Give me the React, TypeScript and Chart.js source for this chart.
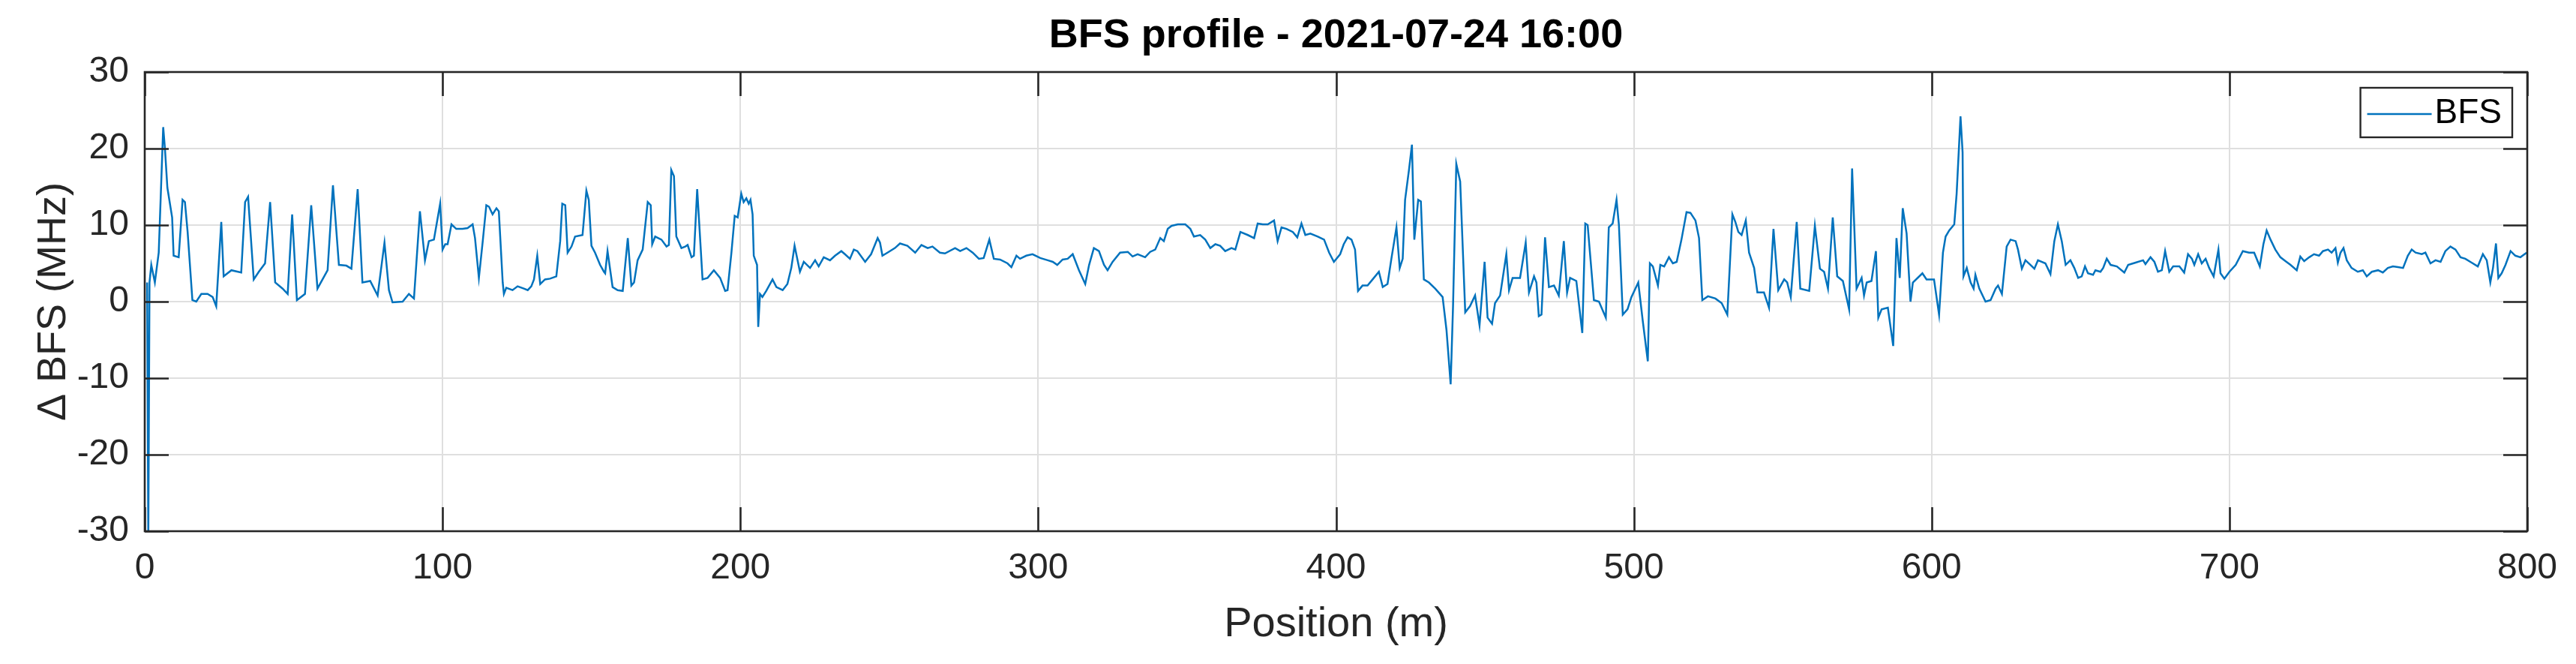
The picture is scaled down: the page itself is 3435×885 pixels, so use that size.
import React, { useEffect, useRef } from "react";
import { Chart, registerables } from "chart.js";

Chart.register(...registerables);

// ---------- data (position in m, ΔBFS in MHz) ----------
const pos000 = [
  0.8, 1.2, 1.6, 2.2, 3.4, 4.7, 6.2, 6.8, 7.6, 9.2,
  9.7, 11.4, 12.7, 13.5, 14.4, 16.0, 17.3, 19.0, 21.1, 22.8,
  24.0, 25.7, 26.5, 29.1, 32.4, 33.7, 34.7, 36.6, 38.3, 40.4,
  42.1, 43.8, 46.3, 48.0, 49.5, 51.1, 53.8, 55.9, 58.0, 61.4,
  63.2, 65.2, 67.7, 69.4, 71.5, 73.1, 75.7, 78.2, 80.5, 82.0,
  83.2, 86.6, 88.7, 90.4, 92.4, 94.1, 95.4, 97.1,
];
const bfs000 = [
  2.5, -31, 2.5, 4.8, 2.5, 6.4, 22.8, 19.9, 14.9, 11.0,
  6.0, 5.8, 13.3, 13.0, 9.1, 0.2, 0.0, 1.0, 1.0, 0.6,
  -0.6, 10.4, 3.3, 4.1, 3.8, 13.0, 13.7, 2.9, 3.9, 5.0,
  13.0, 2.5, 1.7, 1.0, 11.4, 0.2, 1.0, 12.6, 1.7, 4.1,
  15.2, 4.8, 4.7, 4.3, 14.7, 2.5, 2.7, 0.8, 7.7, 1.5,
  -0.1, 0.0, 1.0, 0.4, 11.8, 5.4, 7.9, 8.1,
];

const pos100 = [
  99.2, 100.0, 100.9, 101.7, 103.0, 104.6, 106.7, 108.4, 110.1, 110.9,
  112.2, 113.5, 114.7, 115.6, 116.8, 118.1, 118.9, 120.2, 120.6, 121.4,
  123.5, 125.2, 127.3, 128.6, 129.8, 130.7, 131.8, 132.8, 134.4, 136.1,
  138.2, 139.5, 140.2, 141.2, 142.0, 143.3, 144.5, 147.0, 148.3, 149.1,
  150.0, 151.2, 152.9, 154.2, 154.6, 155.4, 157.1, 158.8, 160.5, 162.2,
  163.4, 164.3, 165.5, 167.2, 168.9, 169.9, 170.4, 171.4, 173.5, 175.2,
  176.0, 176.8, 177.7, 178.5, 180.2, 181.5, 182.3, 183.6, 184.4, 185.5,
  187.3, 189.0, 191.1, 193.2, 194.9, 195.7, 197.0, 198.1, 199.1,
];
const bfs100 = [
  12.8, 6.8, 7.5, 7.5, 10.1, 9.5, 9.5, 9.6, 10.1, 8.3,
  3.1, 7.9, 12.6, 12.4, 11.4, 12.2, 11.8, 2.5, 1.0, 1.8,
  1.5, 2.0, 1.7, 1.5, 2.0, 2.9, 6.0, 2.3, 2.9, 3.0,
  3.3, 7.9, 12.8, 12.6, 6.4, 7.2, 8.5, 8.7, 14.5, 13.3,
  7.3, 6.4, 4.8, 3.9, 3.7, 6.6, 1.9, 1.5, 1.4, 8.3,
  2.1, 2.5, 5.4, 6.8, 13.0, 12.6, 7.5, 8.5, 8.1, 7.2,
  7.4, 17.2, 16.4, 8.5, 7.0, 7.2, 7.4, 5.8, 6.0, 14.7,
  2.9, 3.1, 4.1, 3.1, 1.4, 1.5, 6.4, 11.2, 11.0,
];

const pos200 = [
  200.3, 201.1, 202.0, 202.8, 203.4, 204.1, 204.5, 205.6, 206.0, 206.6,
  207.4, 208.7, 210.8, 212.1, 214.2, 215.8, 217.1, 218.2, 220.0, 221.3,
  223.4, 225.1, 226.3, 228.0, 230.1, 231.8, 233.9, 235.1, 236.8, 238.1,
  239.3, 241.9, 243.9, 246.1, 246.9, 247.7, 249.4, 251.9, 253.6, 256.1,
  258.7, 260.8, 262.9, 264.5, 267.0, 268.7, 272.1, 273.8, 275.9, 278.0,
  280.1, 281.7, 283.6, 285.1, 287.2, 289.7, 291.0, 292.7, 293.9, 296.0,
  298.1,
];
const bfs200 = [
  14.1, 13.0, 13.5, 12.8, 13.3, 11.4, 6.0, 4.8, -3.3, 1.0,
  0.6, 1.4, 2.9, 1.9, 1.5, 2.3, 4.4, 7.3, 3.9, 5.2,
  4.4, 5.4, 4.6, 5.8, 5.4, 6.0, 6.6, 6.2, 5.6, 6.8,
  6.6, 5.2, 6.2, 8.3, 7.7, 6.0, 6.4, 7.0, 7.6, 7.3,
  6.4, 7.4, 7.0, 7.2, 6.4, 6.3, 7.0, 6.6, 7.0, 6.4,
  5.6, 5.7, 8.1, 5.6, 5.5, 5.0, 4.5, 6.0, 5.6, 6.0,
  6.2,
];

const pos300 = [
  300.7, 303.2, 304.9, 306.4, 308.2, 309.9, 311.6, 313.7, 315.8, 317.1,
  318.7, 320.4, 322.1, 323.3, 325.0, 327.5, 330.1, 331.7, 333.4, 335.9,
  337.6, 339.3, 341.0, 342.2, 343.5, 344.8, 346.9, 349.4, 351.1, 352.3,
  354.4, 356.1, 357.8, 359.5, 361.1, 362.8, 364.9, 366.2, 367.9, 370.4,
  372.5, 373.7, 375.4, 377.1, 379.2, 380.4, 381.7, 383.4, 385.5, 387.0,
  388.4, 389.7, 391.4, 393.9, 396.0, 397.7, 399.3,
];
const bfs300 = [
  5.7, 5.4, 5.2, 4.8, 5.5, 5.6, 6.2, 4.1, 2.3, 4.8,
  7.0, 6.6, 4.8, 4.1, 5.2, 6.4, 6.5, 5.9, 6.2, 5.8,
  6.5, 6.8, 8.3, 7.9, 9.5, 9.9, 10.1, 10.1, 9.5, 8.5,
  8.7, 8.1, 7.0, 7.5, 7.3, 6.6, 7.0, 6.8, 9.1, 8.7,
  8.3, 10.2, 10.1, 10.1, 10.6, 7.9, 9.7, 9.5, 9.1, 8.4,
  10.2, 8.7, 8.9, 8.5, 8.1, 6.4, 5.2,
];

const pos400 = [
  401.4, 402.6, 403.9, 405.2, 406.4, 407.4, 408.9, 410.6, 412.3, 414.4,
  415.7, 417.3, 418.6, 420.3, 421.4, 422.4, 423.2, 424.5, 425.5, 426.3,
  427.6, 428.5, 429.5, 431.2, 433.3, 435.8, 437.1, 438.5, 439.3, 440.4,
  441.7, 443.4, 445.0, 446.7, 448.2, 449.9, 450.9, 452.4, 453.4, 455.1,
  457.2, 458.1, 459.3, 461.8, 463.7, 464.8, 466.5, 467.3, 468.1, 469.0,
  470.2, 471.5, 473.2, 474.8, 476.5, 477.6, 478.6, 480.7, 482.7, 483.7,
  484.5, 486.6, 488.3, 490.6, 491.6, 492.9, 494.2, 495.0, 496.3, 497.9,
  499.2, 501.5, 503.0, 504.7,
];
const bfs400 = [
  6.2, 7.5, 8.4, 8.1, 6.8, 1.4, 2.1, 2.1, 2.9, 3.9,
  1.9, 2.3, 5.6, 9.7, 4.4, 5.6, 13.3, 17.2, 20.5, 8.1,
  13.3, 13.1, 2.9, 2.5, 1.7, 0.6, -3.7, -10.8, -0.6, 18.0,
  15.7, -1.4, -0.6, 0.8, -3.1, 5.2, -2.1, -2.9, -0.2, 0.8,
  6.2, 1.5, 3.1, 3.1, 7.7, 1.2, 3.3, 2.5, -1.9, -1.7,
  8.4, 1.9, 2.1, 0.8, 7.9, 1.2, 3.1, 2.7, -4.1, 10.2,
  10.0, 0.2, 0.0, -2.1, 9.7, 10.2, 13.3, 10.0, -1.7, -1.0,
  0.6, 2.5, -2.5, -7.8,
];

const pos500 = [
  505.4, 506.4, 508.1, 508.9, 510.2, 511.8, 513.1, 514.4, 516.0, 517.7,
  519.0, 520.7, 521.9, 523.0, 524.9, 527.4, 529.5, 531.4, 533.1, 534.1,
  535.1, 536.2, 537.6, 538.7, 540.4, 541.5, 543.7, 545.4, 546.9, 548.5,
  550.5, 551.5, 552.7, 554.7, 555.9, 558.9, 560.8, 562.5, 563.9, 565.2,
  566.8, 568.3, 570.2, 572.3, 573.3, 574.8, 576.5, 577.3, 578.2, 579.8,
  581.3, 582.1, 583.2, 585.3, 587.1, 588.2, 589.3, 590.3, 591.6, 592.9,
  593.7, 596.9, 598.3, 600.8, 602.5, 603.8,
];
const bfs500 = [
  5.0, 4.6, 2.1, 4.8, 4.6, 5.8, 5.0, 5.2, 8.1, 11.7,
  11.6, 10.6, 8.3, 0.2, 0.7, 0.4, -0.2, -1.7, 11.4, 10.4,
  9.1, 8.7, 10.6, 6.4, 4.4, 1.2, 1.2, -0.8, 9.5, 1.5,
  2.9, 2.5, 0.6, 10.4, 1.7, 1.4, 9.9, 4.3, 3.9, 1.7,
  11.0, 3.3, 2.7, -1.0, 17.4, 1.7, 3.1, 0.8, 2.5, 2.7,
  6.6, -2.1, -1.0, -0.8, -5.8, 8.3, 3.1, 12.2, 8.9, 0.0,
  2.5, 3.7, 2.9, 2.9, -1.7, 6.4,
];

const pos600 = [
  604.7, 605.9, 607.6, 608.4, 609.7, 610.4, 610.7, 611.8, 613.1, 614.1,
  614.7, 616.0, 618.1, 619.8, 621.5, 622.3, 623.6, 625.2, 626.5, 628.2,
  629.0, 630.3, 631.5, 633.2, 634.5, 635.7, 638.2, 639.9, 641.2, 642.4,
  643.7, 645.0, 646.6, 647.9, 649.2, 650.4, 651.5, 652.5, 654.2, 655.0,
  656.7, 657.6, 658.8, 660.1, 662.2, 664.7, 666.0, 668.5, 671.0, 671.8,
  673.5, 674.8, 676.0, 677.3, 678.4, 679.8, 681.1, 683.2, 684.8, 686.1,
  687.4, 688.2, 689.5, 690.7, 692.0, 693.2, 694.7, 696.3, 697.0, 698.3,
  700.0, 702.1,
];
const bfs600 = [
  8.5, 9.3, 10.1, 14.1, 24.2, 19.5, 3.3, 4.4, 2.5, 1.7,
  3.5, 1.7, 0.0, 0.2, 1.7, 2.1, 1.0, 7.2, 8.1, 7.9,
  6.8, 4.3, 5.4, 4.8, 4.3, 5.4, 5.0, 3.6, 7.9, 10.1,
  7.9, 4.8, 5.4, 4.4, 3.1, 3.3, 4.6, 3.7, 3.5, 4.1,
  3.9, 4.4, 5.6, 4.8, 4.6, 3.8, 4.8, 5.1, 5.4, 4.9,
  5.8, 5.2, 3.9, 4.1, 6.6, 3.9, 4.6, 4.6, 3.8, 6.2,
  5.6, 4.8, 6.2, 5.0, 5.6, 4.4, 3.3, 6.8, 3.7, 3.0,
  3.9, 4.8,
];

const pos700 = [
  704.5, 706.6, 708.3, 710.2, 711.4, 712.5, 713.8, 715.4, 717.1, 718.8,
  720.5, 722.6, 723.8, 725.1, 726.8, 728.4, 730.1, 731.4, 733.1, 734.3,
  735.6, 736.4, 737.3, 738.3, 739.4, 741.0, 743.1, 744.8, 746.1, 747.8,
  749.9, 751.5, 753.2, 754.9, 756.6, 758.3, 759.9, 761.2, 762.5, 764.6,
  765.8, 767.5, 769.2, 770.9, 772.5, 774.2, 775.9, 777.6, 779.2, 781.3,
  783.4, 785.1, 786.4, 787.6, 788.5, 789.5, 790.3, 791.4, 792.7, 794.4,
  796.0, 797.7, 799.8,
];
const bfs700 = [
  6.6, 6.4, 6.4, 4.6, 7.5, 9.3, 8.1, 6.8, 5.8, 5.3,
  4.8, 4.1, 5.9, 5.3, 5.8, 6.2, 6.0, 6.6, 6.8, 6.4,
  7.0, 5.1, 6.4, 7.0, 5.4, 4.4, 3.9, 4.1, 3.3, 3.9,
  4.1, 3.8, 4.4, 4.6, 4.5, 4.4, 6.0, 6.8, 6.4, 6.2,
  6.4, 5.0, 5.4, 5.2, 6.6, 7.2, 6.8, 5.8, 5.6, 5.1,
  4.6, 6.2, 5.4, 2.5, 4.4, 7.6, 3.1, 3.7, 4.8, 6.6,
  6.0, 5.8, 6.4,
];

const xTicks = [0, 100, 200, 300, 400, 500, 600, 700, 800];
const yTicks = [-30, -20, -10, 0, 10, 20, 30];

const chartTitle = "BFS profile - 2021-07-24 16:00";
const xLabel = "Position (m)";
const yLabel = "Δ BFS (MHz)";
const seriesName = "BFS";

// ---------- styles ----------
const FONT = '"Liberation Sans", Arial, Helvetica, sans-serif';
const AXIS_COLOR = "#262626";
const GRID_COLOR = "#dfdfdf";
const LINE_COLOR = "#0072BD";
const TICK_LEN = 32;

const positions = [...pos000, ...pos100, ...pos200, ...pos300, ...pos400, ...pos500, ...pos600, ...pos700];
const values = [...bfs000, ...bfs100, ...bfs200, ...bfs300, ...bfs400, ...bfs500, ...bfs600, ...bfs700];

const matlabAxesPlugin = {
  id: "matlabAxes",
  afterDatasetsDraw(chart: any) {
    const { ctx, chartArea, scales } = chart;
    const { left, right, top, bottom } = chartArea;
    const xs = scales.x;
    const ys = scales.y;
    ctx.save();
    ctx.strokeStyle = AXIS_COLOR;
    ctx.lineWidth = 2.6;
    ctx.lineCap = "butt";
    ctx.beginPath();
    for (const v of xTicks) {
      const px = Math.round(xs.getPixelForValue(v)) + 0.5;
      ctx.moveTo(px, bottom);
      ctx.lineTo(px, bottom - TICK_LEN);
      ctx.moveTo(px, top);
      ctx.lineTo(px, top + TICK_LEN);
    }
    for (const v of yTicks) {
      const py = Math.round(ys.getPixelForValue(v)) + 0.5;
      ctx.moveTo(left, py);
      ctx.lineTo(left + TICK_LEN, py);
      ctx.moveTo(right, py);
      ctx.lineTo(right - TICK_LEN, py);
    }
    ctx.stroke();
    ctx.strokeRect(left, top, right - left, bottom - top);

    // legend (inside, north-east)
    const label = chart.data.datasets[0].label;
    ctx.font = `46px ${FONT}`;
    const tw = ctx.measureText(label).width;
    const boxH = 66;
    const lineLen = 86;
    const boxW = 9 + lineLen + 4 + tw + 14;
    const bx = right - 20 - boxW;
    const by = top + 21;
    ctx.fillStyle = "#ffffff";
    ctx.fillRect(bx, by, boxW, boxH);
    ctx.lineWidth = 2.4;
    ctx.strokeStyle = AXIS_COLOR;
    ctx.strokeRect(bx, by, boxW, boxH);
    ctx.strokeStyle = LINE_COLOR;
    ctx.lineWidth = 2.5;
    ctx.beginPath();
    ctx.moveTo(bx + 9, by + boxH / 2 + 2);
    ctx.lineTo(bx + 9 + lineLen, by + boxH / 2 + 2);
    ctx.stroke();
    ctx.fillStyle = "#000000";
    ctx.textAlign = "left";
    ctx.textBaseline = "middle";
    ctx.fillText(label, bx + 9 + lineLen + 4, by + boxH / 2 + 1);
    ctx.restore();
  },
};

export default function App() {
  const canvasRef = useRef<HTMLCanvasElement | null>(null);

  useEffect(() => {
    if (!canvasRef.current) return;
    const data = positions.map((p, i) => ({ x: p, y: values[i] }));
    const chart = new Chart(canvasRef.current, {
      type: "line",
      data: {
        datasets: [
          {
            label: seriesName,
            data,
            borderColor: LINE_COLOR,
            backgroundColor: LINE_COLOR,
            borderWidth: 2.5,
            pointRadius: 0,
            tension: 0,
            fill: false,
            clip: 0,
          },
        ],
      },
      options: {
        animation: false,
        responsive: true,
        maintainAspectRatio: false,
        layout: { padding: { left: 0, right: 65, top: 0, bottom: 0 } },
        plugins: {
          legend: { display: false },
          tooltip: { enabled: false },
          title: {
            display: true,
            fullSize: false,
            text: chartTitle,
            color: "#000000",
            font: { family: FONT, size: 54, weight: "bold" },
            padding: { top: 15.6, bottom: 15.6 },
          },
        },
        scales: {
          x: {
            type: "linear",
            min: 0,
            max: 800,
            afterBuildTicks: (s: any) => {
              s.ticks = xTicks.map((v) => ({ value: v }));
            },
            afterFit: (s: any) => {
              s.height = 177;
            },
            grid: { color: GRID_COLOR, lineWidth: 2, drawTicks: false },
            border: { display: false },
            ticks: {
              color: AXIS_COLOR,
              font: { family: FONT, size: 48 },
              padding: 21,
              maxRotation: 0,
              autoSkip: false,
            },
            title: {
              display: true,
              text: xLabel,
              color: AXIS_COLOR,
              font: { family: FONT, size: 56 },
              padding: { top: 0, bottom: 19 },
            },
          },
          y: {
            type: "linear",
            min: -30,
            max: 30,
            afterBuildTicks: (s: any) => {
              s.ticks = yTicks.map((v) => ({ value: v }));
            },
            afterFit: (s: any) => {
              s.width = 193;
            },
            grid: { color: GRID_COLOR, lineWidth: 2, drawTicks: false },
            border: { display: false },
            ticks: {
              color: AXIS_COLOR,
              font: { family: FONT, size: 48 },
              padding: 21,
              autoSkip: false,
            },
            title: {
              display: true,
              text: yLabel,
              color: AXIS_COLOR,
              font: { family: FONT, size: 54 },
              padding: { top: 40, bottom: 0 },
            },
          },
        },
      },
      plugins: [matlabAxesPlugin],
    });
    return () => chart.destroy();
  }, []);

  return (
    <div
      style={{
        position: "fixed",
        left: 0,
        top: 0,
        width: 3435,
        height: 885,
        background: "#ffffff",
      }}
    >
      <canvas ref={canvasRef} />
    </div>
  );
}
